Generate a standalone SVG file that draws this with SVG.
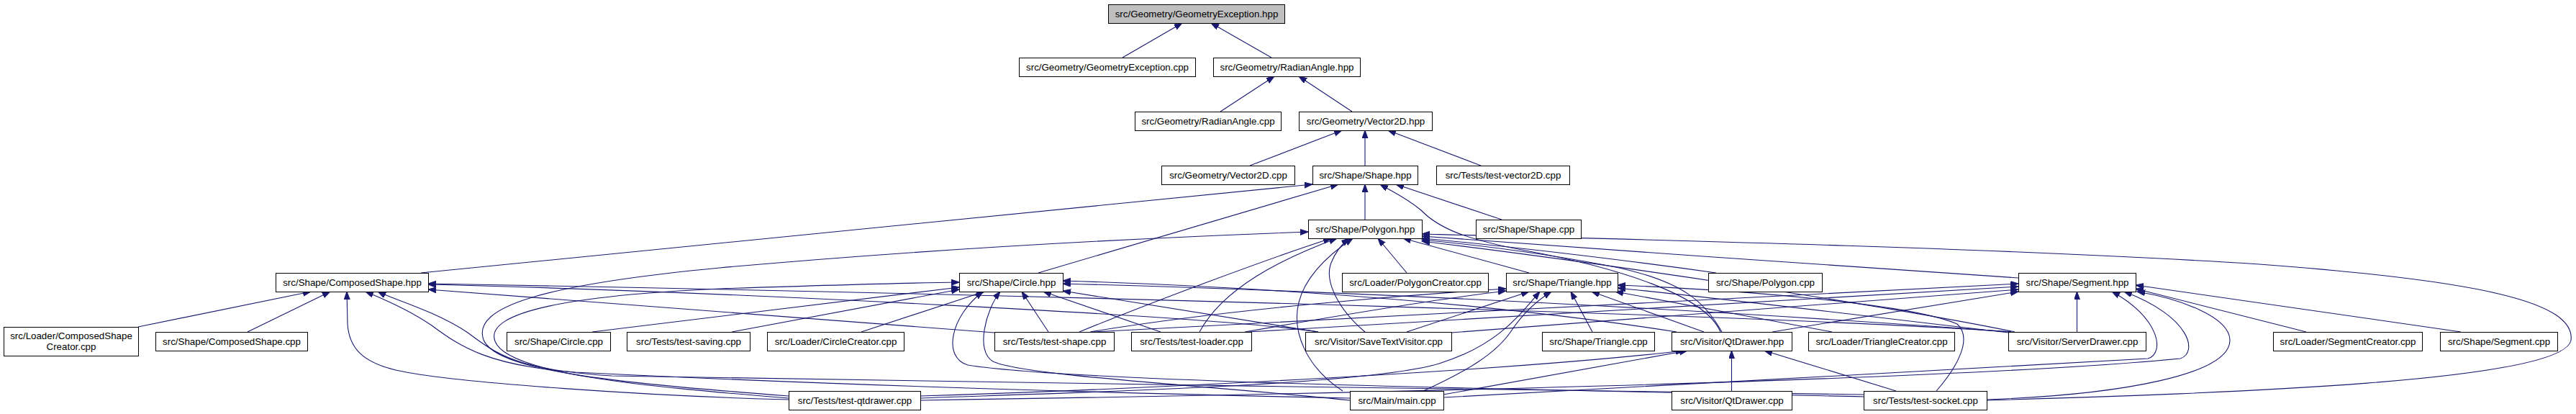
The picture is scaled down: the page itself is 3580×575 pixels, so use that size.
<svg xmlns="http://www.w3.org/2000/svg" width="3580" height="575" viewBox="0 0 3580 575">
<style>
.n rect{fill:#fff;stroke:#000;stroke-width:1}
.n.root rect{fill:#bfbfbf}
.n text{font-family:"Liberation Sans",Arial,Helvetica,sans-serif;font-size:13.33px;fill:#000;text-anchor:middle}
.e path{fill:none;stroke:#191970;stroke-width:1.1;marker-end:url(#ah)}
</style>
<defs>
<marker id="ah" markerUnits="userSpaceOnUse" markerWidth="12" markerHeight="10" refX="11" refY="4" orient="auto">
<path d="M0,0 L11,4 L0,8 z" fill="#191970" stroke="#191970" stroke-width="1"/>
</marker>
</defs>
<rect width="3580" height="575" fill="#fff"/>
<g id="edges" class="e">
<path d="M1560,80 L1643,32"/>
<path d="M1767,80 L1683,32"/>
<path d="M1696,155 L1771,106"/>
<path d="M1879,155 L1805,106"/>
<path d="M1737,230 L1865,181"/>
<path d="M1897,230 L1897,181"/>
<path d="M2058,230 L1929,181"/>
<path d="M585,379 L1824,256"/>
<path d="M1443,379 L1860,256"/>
<path d="M1897,305 L1897,256"/>
<path d="M2391,461 C2370,410 2250,372 2120,348 C2040,333 2000,318 1975,292 C1955,275 1935,266 1918,256"/>
<path d="M2087,305 L1940,256"/>
<path d="M1096,550 C880,533 690,518 672,472 C655,425 760,395 1000,372 C1300,345 1600,330 1818,322"/>
<path d="M1096,553 C900,537 705,520 688,474 C672,432 800,410 1000,401 C1150,396 1250,393 1333,392"/>
<path d="M1096,555 C900,550 640,532 560,516 C500,505 485,480 483,450 L482,405"/>
<path d="M1876,553 C1500,545 1100,532 800,517 C680,508 640,482 600,452 C565,428 525,412 508,405"/>
<path d="M2590,548 C2200,540 1200,532 850,522 C720,514 690,492 650,462 C605,432 545,415 525,405"/>
<path d="M192,454 L432,405"/>
<path d="M344,461 L459,405"/>
<path d="M1382,462 L595,402"/>
<path d="M1832,461 C1700,440 1000,405 595,395"/>
<path d="M2795,461 C2500,440 1500,410 595,394"/>
<path d="M823,461 L1333,399"/>
<path d="M1017,461 L1333,402"/>
<path d="M1197,461 L1368,405"/>
<path d="M1457,461 L1420,405"/>
<path d="M1613,461 L1450,405"/>
<path d="M1876,556 C1700,537 1420,522 1380,502 C1355,488 1370,430 1390,405"/>
<path d="M2590,551 C2200,542 1500,532 1345,507 C1310,497 1320,440 1366,405"/>
<path d="M1832,461 L1477,404"/>
<path d="M2795,461 C2400,432 1900,405 1477,394"/>
<path d="M2330,461 C2100,425 1800,400 1477,390"/>
<path d="M1500,461 C1600,420 1760,360 1850,331"/>
<path d="M1667,461 C1700,400 1780,360 1858,331"/>
<path d="M1897,461 C1860,430 1840,390 1850,365 C1856,350 1866,338 1875,331"/>
<path d="M1866,543 C1815,510 1795,460 1805,420 C1815,380 1852,350 1880,331"/>
<path d="M1955,379 L1915,331"/>
<path d="M2125,379 L1950,331"/>
<path d="M2761,556 C3100,546 3560,530 3573,473 C3580,420 3450,390 3140,367 C2800,345 2300,333 1976,325"/>
<path d="M2805,386 C2600,372 2200,345 1976,328"/>
<path d="M2385,379 C2250,360 2080,340 1976,331"/>
<path d="M2393,461 C2370,420 2340,392 2250,372 C2150,352 2050,340 1976,333"/>
<path d="M2800,461 C2600,420 2200,362 1976,335"/>
<path d="M1515,461 C1700,430 1950,410 2093,401"/>
<path d="M1730,461 C1850,440 2000,415 2093,404"/>
<path d="M1955,461 L2125,405"/>
<path d="M1978,543 C2040,515 2080,490 2100,460 C2120,430 2140,415 2156,405"/>
<path d="M1279,553 C1500,545 1900,535 2000,505 C2080,480 2110,440 2140,405"/>
<path d="M2213,461 L2183,405"/>
<path d="M2368,461 L2212,405"/>
<path d="M2546,461 L2245,405"/>
<path d="M2800,463 C2600,440 2400,415 2248,400"/>
<path d="M2691,543 C2720,510 2742,470 2720,450 C2650,420 2400,402 2248,396"/>
<path d="M2886.5,461 L2886.5,405"/>
<path d="M3205,461 L2968,401"/>
<path d="M3420,461 L2968,396"/>
<path d="M2761,555 C2950,548 3100,520 3099,472 C3098,440 3030,415 2970,405"/>
<path d="M2006,552 C2300,535 2800,510 2985,498 C3010,490 3000,440 2935,405"/>
<path d="M1279,556 C1800,548 2700,530 3030,498 C3055,490 3045,440 2952,405"/>
<path d="M1520,461 C1900,440 2500,410 2805,394"/>
<path d="M1735,461 C2100,440 2500,415 2805,398"/>
<path d="M2017,462 L2805,402"/>
<path d="M2463,461 L2805,405"/>
<path d="M2406.5,543 L2406.5,487"/>
<path d="M2635,543 L2452,487"/>
<path d="M2006,548 L2345,487"/>
<path d="M1279,550 C1600,540 2100,515 2340,487"/>
</g>
<g id="n0" class="n root"><rect x="1540.5" y="6.5" width="245" height="26"/><text x="1663" y="24">src/Geometry/GeometryException.hpp</text></g>
<g id="n1" class="n"><rect x="1416.5" y="80.5" width="245" height="26"/><text x="1539" y="98">src/Geometry/GeometryException.cpp</text></g>
<g id="n2" class="n"><rect x="1686.5" y="80.5" width="204" height="26"/><text x="1788.5" y="98">src/Geometry/RadianAngle.hpp</text></g>
<g id="n3" class="n"><rect x="1577.5" y="155.5" width="203" height="26"/><text x="1679" y="173">src/Geometry/RadianAngle.cpp</text></g>
<g id="n4" class="n"><rect x="1805.5" y="155.5" width="185" height="26"/><text x="1898" y="173">src/Geometry/Vector2D.hpp</text></g>
<g id="n5" class="n"><rect x="1614.5" y="230.5" width="185" height="26"/><text x="1707" y="248">src/Geometry/Vector2D.cpp</text></g>
<g id="n6" class="n"><rect x="1824.5" y="230.5" width="146" height="26"/><text x="1897.5" y="248">src/Shape/Shape.hpp</text></g>
<g id="n7" class="n"><rect x="1996.5" y="230.5" width="185" height="26"/><text x="2089" y="248">src/Tests/test-vector2D.cpp</text></g>
<g id="n8" class="n"><rect x="1818.5" y="305.5" width="158" height="26"/><text x="1897.5" y="323">src/Shape/Polygon.hpp</text></g>
<g id="n9" class="n"><rect x="2051.5" y="305.5" width="146" height="26"/><text x="2124.5" y="323">src/Shape/Shape.cpp</text></g>
<g id="n10" class="n"><rect x="383.5" y="379.5" width="212" height="26"/><text x="489.5" y="397">src/Shape/ComposedShape.hpp</text></g>
<g id="n11" class="n"><rect x="1333.5" y="379.5" width="144" height="26"/><text x="1405.5" y="397">src/Shape/Circle.hpp</text></g>
<g id="n12" class="n"><rect x="1865.5" y="379.5" width="203" height="26"/><text x="1967" y="397">src/Loader/PolygonCreator.cpp</text></g>
<g id="n13" class="n"><rect x="2093.5" y="379.5" width="155" height="26"/><text x="2171" y="397">src/Shape/Triangle.hpp</text></g>
<g id="n14" class="n"><rect x="2374.5" y="379.5" width="158" height="26"/><text x="2453.5" y="397">src/Shape/Polygon.cpp</text></g>
<g id="n15" class="n"><rect x="2805.5" y="379.5" width="163" height="26"/><text x="2887" y="397">src/Shape/Segment.hpp</text></g>
<g id="n16" class="n"><rect x="5.5" y="454.5" width="187" height="40"/><text x="99" y="471">src/Loader/ComposedShape</text><text x="99" y="486">Creator.cpp</text></g>
<g id="n17" class="n"><rect x="216.5" y="461.5" width="211" height="26"/><text x="322" y="479">src/Shape/ComposedShape.cpp</text></g>
<g id="n18" class="n"><rect x="704.5" y="461.5" width="144" height="26"/><text x="776.5" y="479">src/Shape/Circle.cpp</text></g>
<g id="n19" class="n"><rect x="871.5" y="461.5" width="171" height="26"/><text x="957" y="479">src/Tests/test-saving.cpp</text></g>
<g id="n20" class="n"><rect x="1066.5" y="461.5" width="190" height="26"/><text x="1161.5" y="479">src/Loader/CircleCreator.cpp</text></g>
<g id="n21" class="n"><rect x="1382.5" y="461.5" width="166" height="26"/><text x="1465.5" y="479">src/Tests/test-shape.cpp</text></g>
<g id="n22" class="n"><rect x="1572.5" y="461.5" width="167" height="26"/><text x="1656" y="479">src/Tests/test-loader.cpp</text></g>
<g id="n23" class="n"><rect x="1814.5" y="461.5" width="203" height="26"/><text x="1916" y="479">src/Visitor/SaveTextVisitor.cpp</text></g>
<g id="n24" class="n"><rect x="2143.5" y="461.5" width="156" height="26"/><text x="2221.5" y="479">src/Shape/Triangle.cpp</text></g>
<g id="n25" class="n"><rect x="2323.5" y="461.5" width="167" height="26"/><text x="2407" y="479">src/Visitor/QtDrawer.hpp</text></g>
<g id="n26" class="n"><rect x="2513.5" y="461.5" width="203" height="26"/><text x="2615" y="479">src/Loader/TriangleCreator.cpp</text></g>
<g id="n27" class="n"><rect x="2791.5" y="461.5" width="191" height="26"/><text x="2887" y="479">src/Visitor/ServerDrawer.cpp</text></g>
<g id="n28" class="n"><rect x="3159.5" y="461.5" width="207" height="26"/><text x="3263" y="479">src/Loader/SegmentCreator.cpp</text></g>
<g id="n29" class="n"><rect x="3391.5" y="461.5" width="163" height="26"/><text x="3473" y="479">src/Shape/Segment.cpp</text></g>
<g id="n30" class="n"><rect x="1096.5" y="543.5" width="183" height="26"/><text x="1188" y="561">src/Tests/test-qtdrawer.cpp</text></g>
<g id="n31" class="n"><rect x="1876.5" y="543.5" width="130" height="26"/><text x="1941.5" y="561">src/Main/main.cpp</text></g>
<g id="n32" class="n"><rect x="2323.5" y="543.5" width="167" height="26"/><text x="2407" y="561">src/Visitor/QtDrawer.cpp</text></g>
<g id="n33" class="n"><rect x="2590.5" y="543.5" width="171" height="26"/><text x="2676" y="561">src/Tests/test-socket.cpp</text></g>
</svg>
